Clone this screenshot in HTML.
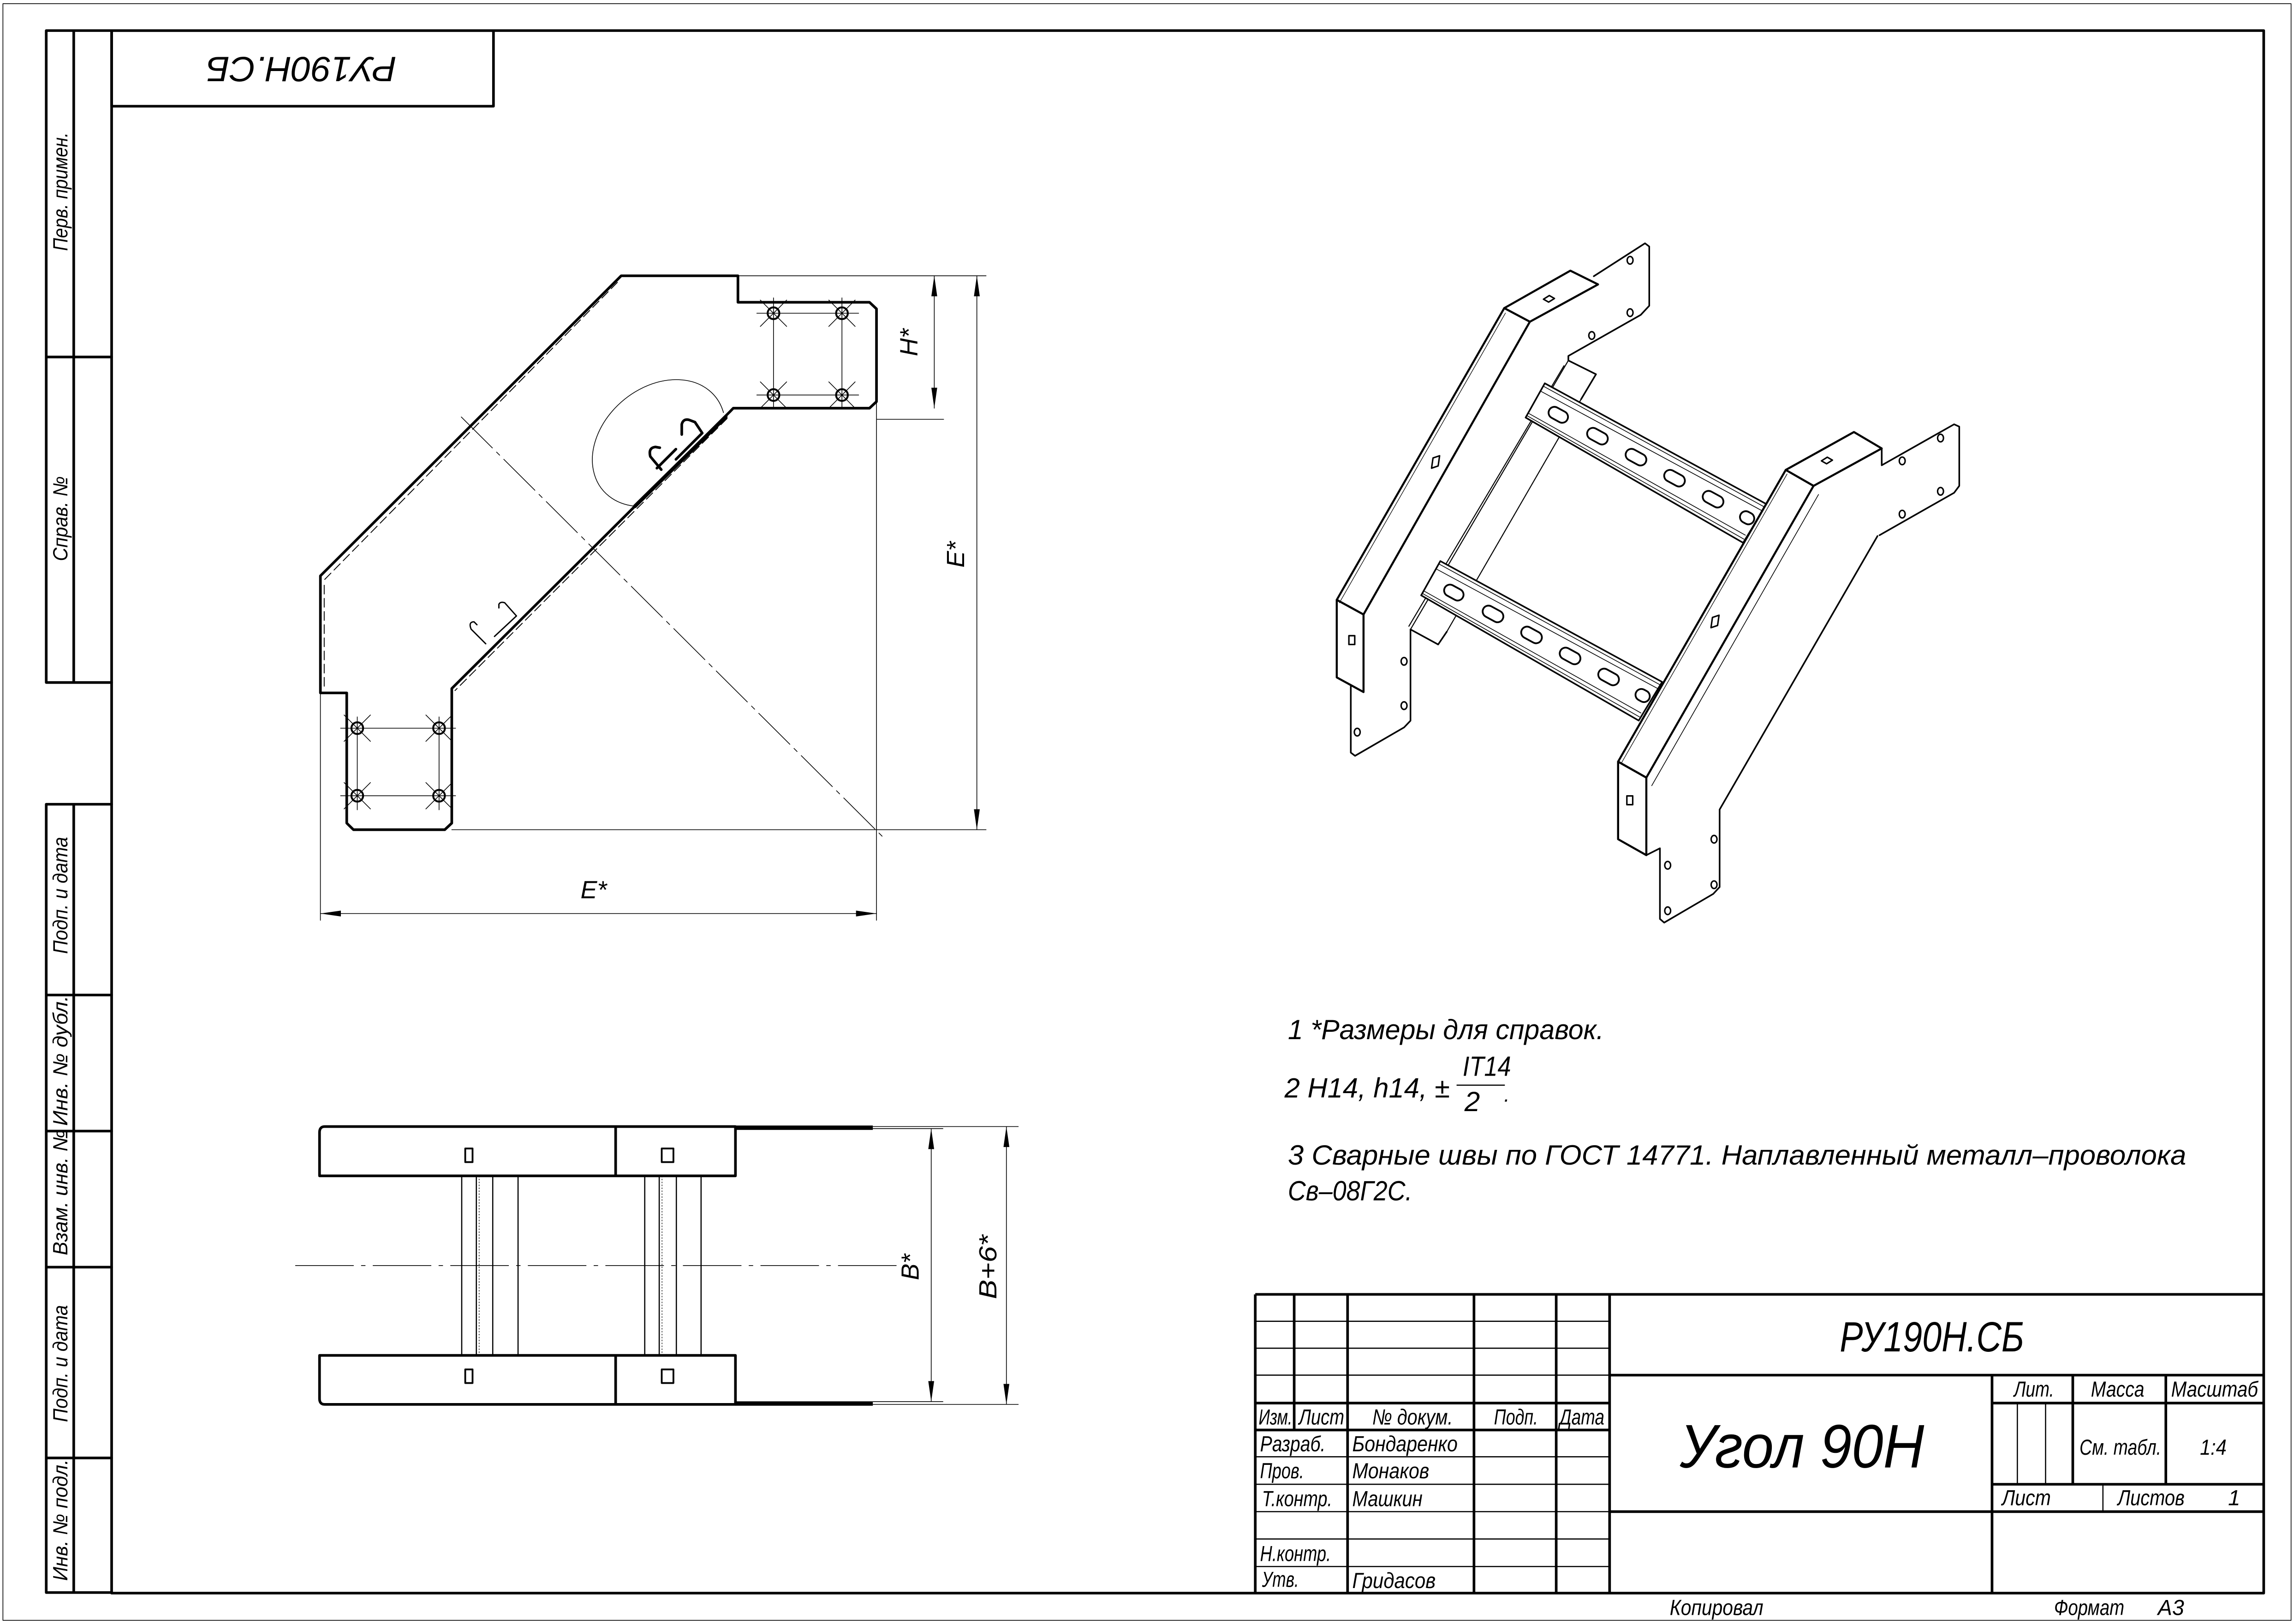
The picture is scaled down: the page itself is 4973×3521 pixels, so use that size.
<!DOCTYPE html>
<html><head><meta charset="utf-8"><style>
html,body{margin:0;padding:0;background:#fff;}
svg{display:block;}
text{font-family:"Liberation Sans Narrow","Liberation Sans","DejaVu Sans",sans-serif;font-style:italic;fill:#000;}
</style></head><body>
<svg width="4973" height="3521" viewBox="0 0 1568 1110" preserveAspectRatio="none" xmlns="http://www.w3.org/2000/svg">
<rect x="0" y="0" width="1568" height="1110" fill="#fff"/>
<g fill="none" stroke="#000" stroke-linecap="round" stroke-linejoin="round">
<rect x="2" y="2.5" width="1564" height="1105" stroke-width="0.5"/>
<rect x="76.3" y="20.9" width="1471" height="1068" stroke-width="1.8"/>
<rect x="76.3" y="20.9" width="261" height="51.7" stroke-width="1.8"/>
<path d="M76.3 20.9 H31.6 V466.5 H76.3 M50.4 20.9 V466.5 M31.6 244 H76.3" stroke-width="1.8"/>
<path d="M76.3 549.7 H31.6 V1088.5 H76.3 M50.4 549.7 V1088.5 M31.6 680.1 H76.3 M31.6 773.1 H76.3 M31.6 866.1 H76.3 M31.6 996.5 H76.3" stroke-width="1.8"/>

<path d="M424.6 188.5 H504.4 V206.6 H594.3 L599.1 211.1 V274.5 L594.3 279 H501.2 L498.9 281.4 L308.8 470.6 V562.6 L304 567.1 H241.6 L237 562.6 V473.6 H219 V393.6 Z" stroke-width="1.8"/>
<path d="M422 193 L221.5 396.5 M221.6 400 V470" stroke-width="0.6" stroke-dasharray="6 3"/>
<path d="M497 286 L311 472" stroke-width="0.6" stroke-dasharray="6 3"/>
<path d="M496 285 L434 346" stroke-width="2.6"/>
<path d="M434 346 A50 38 -40 1 1 494.5 282" stroke-width="0.5"/>
<path d="M452 321 L444.5 312 Q443 306 448 305.5 L451 306 M449 320 L462 307 M466 297 V290 Q467 286 471 287 L475 288.5 L480 296 L462 314" stroke-width="1.8"/>
<path d="M341 415.5 V413 Q342 411 345 412 L353 421 L338 435 M332 440 L322 430 Q320 425 324 425 L326 427" stroke-width="0.9"/>
<path d="M315.3 285 L603 571.6" stroke-width="0.5" stroke-dasharray="30 4 3 4"/>
<path d="M517.3 214.1 H586.9 M517.3 270 H586.9 M528.7 203.6 V279 M575.5 203.6 V279 M232.8 497.7 H311.4 M232.8 543.9 H311.4 M244.2 490 V553.5 M300.1 490 V553.5" stroke-width="0.5"/>
<g stroke-width="1.3">
<circle cx="528.7" cy="214.1" r="4"/><circle cx="575.5" cy="214.1" r="4"/><circle cx="528.7" cy="270" r="4"/><circle cx="575.5" cy="270" r="4"/>
<circle cx="244.2" cy="497.7" r="4"/><circle cx="300.1" cy="497.7" r="4"/><circle cx="244.2" cy="543.9" r="4"/><circle cx="300.1" cy="543.9" r="4"/>
</g>
<g stroke-width="0.5">
<path d="M519.7 205.1 l18 18 M537.7 205.1 l-18 18 M566.5 205.1 l18 18 M584.5 205.1 l-18 18 M519.7 261 l18 18 M537.7 261 l-18 18 M566.5 261 l18 18 M584.5 261 l-18 18"/>
<path d="M235.2 488.7 l18 18 M253.2 488.7 l-18 18 M291.1 488.7 l18 18 M309.1 488.7 l-18 18 M235.2 534.9 l18 18 M253.2 534.9 l-18 18 M291.1 534.9 l18 18 M309.1 534.9 l-18 18"/>
</g>
<path d="M504.4 188.5 H674 M599.1 286.6 H645 M308.8 567.1 H674 M599.1 274.5 V629 M219 473.6 V629" stroke-width="0.5"/>
<path d="M638.6 188.5 V279 M667.7 188.5 V567.1 M219 624.4 H599.1" stroke-width="0.5"/>
</g>
<g fill="#000">
<path d="M638.6 188.5 l-2 14 h4 Z M638.6 279 l-2 -14 h4 Z"/>
<path d="M667.7 188.5 l-2 14 h4 Z M667.7 567.1 l-2 -14 h4 Z"/>
<path d="M219 624.4 l14 -2 v4 Z M599.1 624.4 l-14 -2 v4 Z"/>
</g>
<text x="405.8" y="614" font-size="17" text-anchor="middle">E*</text>
<text transform="translate(627,234) rotate(-90)" font-size="17" text-anchor="middle">H*</text>
<text transform="translate(659,379) rotate(-90)" font-size="17" text-anchor="middle">E*</text>

<g fill="none" stroke="#000" stroke-linejoin="round">
<path d="M222 770 H502.7 V803.7 H218.4 V774 Q218.4 770 222 770 Z M420.8 770 V803.7" stroke-width="1.8"/>
<path d="M222 959.9 H502.7 V926.4 H218.4 V956 Q218.4 959.9 222 959.9 Z M420.8 926.4 V959.9" stroke-width="1.8"/>
<path d="M502.7 770.8 H596.6 M502.7 959.3 H596.6" stroke-width="3"/>
<path d="M315.6 803.7 V926.4 M325.6 803.7 V926.4 M336.8 803.7 V926.4 M354.1 803.7 V926.4 M440.7 803.7 V926.4 M450.6 803.7 V926.4 M462.3 803.7 V926.4 M479.2 803.7 V926.4" stroke-width="0.8"/>
<path d="M327.5 803.7 V926.4 M452.5 803.7 V926.4" stroke-width="0.4" stroke-dasharray="1 1"/>
<rect x="318" y="785" width="5" height="9.3" stroke-width="1.2"/>
<rect x="452.3" y="785" width="8" height="9.3" stroke-width="1.2"/>
<rect x="318" y="936" width="5" height="9.3" stroke-width="1.2"/>
<rect x="452.3" y="936" width="8" height="9.3" stroke-width="1.2"/>
<path d="M201.8 865 H613" stroke-width="0.5" stroke-dasharray="40 5 3 5"/>
<path d="M596.6 771.4 H644.7 M596.6 958 H644.7 M596.6 770 H696.2 M596.6 959.9 H696.2 M636.5 771.4 V958 M687.9 770 V959.9" stroke-width="0.5"/>
</g>
<g fill="#000">
<path d="M636.5 771.4 l-2 14 h4 Z M636.5 958 l-2 -14 h4 Z M687.9 770 l-2 14 h4 Z M687.9 959.9 l-2 -14 h4 Z"/>
</g>
<text transform="translate(628,866) rotate(-90)" font-size="17" text-anchor="middle">B*</text>
<text transform="translate(681,866) rotate(-90)" font-size="17" text-anchor="middle" textLength="44" lengthAdjust="spacingAndGlyphs">B+6*</text>

<g fill="#fff" stroke="#000" stroke-linejoin="round" stroke-linecap="round">
<path d="M1089.4 188.8 L1124.4 166.3 L1127.3 168.5 V209 L1121.5 215.2 L1072 243.3 L1072 246.4 L1090.9 255.8 L1080.7 272.9" stroke-width="1.1" fill="none"/>
<path d="M923.3 469.2 V514.4 L926.2 516.6 L959.7 497.2 L964.1 492.6 V430.2 L983 440.5 L988.9 431.8" stroke-width="1.1" fill="none"/>
<path d="M1072 246.4 L964.1 430.2 M1080.7 272.9 L988.9 431.8 M1069 250 L963 428" stroke-width="0.7" fill="none"/>
<path d="M1125.3 584.5 L1134.6 579.8 V628.1 L1137.5 630.6 L1171 611 L1175.4 606.3 V553.3 L1283.3 366.4" stroke-width="1.1" fill="none"/>
<path d="M1286.2 306.5 V318 L1335.7 290 L1339.2 291.6 V332.1 L1335.7 336.8 L1284.7 365.8" stroke-width="1.1" fill="none"/>

<g id="rung" stroke-width="1.1">
<path d="M1055.9 262 L1207.5 344.6 L1191.5 371 L1042.8 285.4 Z"/>
<path d="M1053 267.3 L1204.6 349.2 M1044.3 282.2 L1193 365.8 M1055 264 L1206 346.5 M1043.5 284 L1192 368.5" stroke-width="0.5" fill="none"/>
<g transform="rotate(28.6 1066 284)">
<rect x="1058" y="280" width="14" height="8" rx="4" stroke-width="1.2"/>
<rect x="1088" y="280" width="15" height="8" rx="4" stroke-width="1.2"/>
<rect x="1118" y="280" width="15" height="8" rx="4" stroke-width="1.2"/>
<rect x="1148" y="280" width="15" height="8" rx="4" stroke-width="1.2"/>
<rect x="1178" y="280" width="15" height="8" rx="4" stroke-width="1.2"/>
<rect x="1207" y="280" width="10" height="8" rx="4" stroke-width="1.2"/>
</g>
</g>
<use href="#rung" transform="translate(-71.4,121.5)"/>

<path d="M1028.2 210.6 L1073.4 185 L1092.3 194.4 L1045.7 219.9 Z" stroke-width="1.4"/>
<path d="M1028.2 210.6 L1045.7 219.9 L932 420 L913.7 410 Z" stroke-width="1.4"/>
<path d="M913.7 410 L932 420 V473 L913.7 463 Z" stroke-width="1.4"/>
<path d="M1029 214 L915.5 412" stroke-width="0.4" fill="none"/>
<path d="M1220.6 321.2 L1267.2 295.3 L1286.2 306.5 L1239.6 332.1 Z" stroke-width="1.4"/>
<path d="M1220.6 321.2 L1239.6 332.1 L1125.3 531.5 L1106 520.6 Z" stroke-width="1.4"/>
<path d="M1106 520.6 L1125.3 531.5 V584.5 L1106 573.6 Z" stroke-width="1.4"/>
<path d="M1239.6 332.1 L1286.2 306.5 M1243 338 L1129 537" stroke-width="0.5" fill="none"/>
<path d="M1221.5 324 L1108 522" stroke-width="0.4" fill="none"/>

<g stroke-width="1" fill="none">
<path d="M979.5 313 l4.5 -1.5 l-1 7 l-4.5 1.5 Z"/>
<path d="M1055 204.5 l4 -2.5 l3.5 2 l-4 2.5 Z"/>
<path d="M1170.5 422 l4.5 -1.5 l-1 7 l-4.5 1.5 Z"/>
<path d="M1245 315 l4 -2.5 l3.5 2 l-4 2.5 Z"/>
<path d="M922 434.5 h4 v6 h-4 Z"/>
<path d="M1112 544 h4 v6 h-4 Z"/>
</g>
<g stroke-width="1" fill="none">
<ellipse cx="1114.2" cy="177.9" rx="2" ry="2.6"/>
<ellipse cx="1114.2" cy="213.7" rx="2" ry="2.6"/>
<ellipse cx="1088" cy="229.3" rx="2" ry="2.6"/>
<ellipse cx="959.7" cy="452" rx="2" ry="2.6"/>
<ellipse cx="959.7" cy="482.3" rx="2" ry="2.6"/>
<ellipse cx="927.7" cy="500.4" rx="2" ry="2.6"/>
<ellipse cx="1326.4" cy="299.4" rx="2" ry="2.6"/>
<ellipse cx="1326.4" cy="335.8" rx="2" ry="2.6"/>
<ellipse cx="1300.2" cy="315" rx="2" ry="2.6"/>
<ellipse cx="1300.2" cy="351.4" rx="2" ry="2.6"/>
<ellipse cx="1171.6" cy="573.6" rx="2" ry="2.6"/>
<ellipse cx="1171.6" cy="604.7" rx="2" ry="2.6"/>
<ellipse cx="1139.9" cy="591.4" rx="2" ry="2.6"/>
<ellipse cx="1139.9" cy="622.5" rx="2" ry="2.6"/>
</g>
</g>

<text x="880.3" y="710.2" font-size="19" textLength="216" lengthAdjust="spacingAndGlyphs">1  *Размеры для справок.</text>
<text x="878" y="750.2" font-size="19" textLength="113" lengthAdjust="spacingAndGlyphs">2  H14, h14, ±</text>
<text x="999.8" y="735.3" font-size="19" textLength="33" lengthAdjust="spacingAndGlyphs">IT14</text>
<line x1="995.6" y1="741.7" x2="1028.6" y2="741.7" stroke="#000" stroke-width="0.8"/>
<text x="1001" y="759.4" font-size="19">2</text>
<text x="1028" y="753" font-size="14">.</text>
<text x="880.3" y="796" font-size="19" textLength="614" lengthAdjust="spacingAndGlyphs">3  Сварные  швы  по  ГОСТ  14771.  Наплавленный  металл–проволока</text>
<text x="880.3" y="820.5" font-size="19" textLength="85" lengthAdjust="spacingAndGlyphs">Св–08Г2С.</text>

<text transform="translate(206,39) rotate(180)" font-size="24" text-anchor="middle" textLength="130" lengthAdjust="spacingAndGlyphs">РУ190Н.СБ</text>

<g font-size="14" text-anchor="middle">
<text transform="translate(46,131) rotate(-90)" textLength="81" lengthAdjust="spacingAndGlyphs">Перв. примен.</text>
<text transform="translate(46,354.5) rotate(-90)" textLength="58" lengthAdjust="spacingAndGlyphs">Справ. №</text>
<text transform="translate(46,612) rotate(-90)" textLength="80" lengthAdjust="spacingAndGlyphs">Подп. и дата</text>
<text transform="translate(46,725) rotate(-90)" textLength="89" lengthAdjust="spacingAndGlyphs">Инв. № дубл.</text>
<text transform="translate(46,815) rotate(-90)" textLength="86" lengthAdjust="spacingAndGlyphs">Взам. инв. №</text>
<text transform="translate(46,932) rotate(-90)" textLength="80" lengthAdjust="spacingAndGlyphs">Подп. и дата</text>
<text transform="translate(46,1039) rotate(-90)" textLength="83" lengthAdjust="spacingAndGlyphs">Инв. № подл.</text>
</g>

<g fill="none" stroke="#000">
<path d="M858 884.7 H1547 M858 884.7 V1089 M1100.2 884.7 V1089 M858 959 H1100.2 M858 977.4 H1100.2 M1100.2 939.9 H1547 M1100.2 1033.2 H1547 M1361.6 959 H1547 M1361.6 1014.5 H1547 M1361.6 939.9 V1089 M884.6 884.7 V977.4 M921.1 884.7 V1089 M1007.5 884.7 V1089 M1063.7 884.7 V1089 M1416.8 939.9 V1014.5 M1480.4 939.9 V1014.5" stroke-width="1.8"/>
<path d="M858 903.1 H1100.2 M858 921.5 H1100.2 M858 939.9 H1100.2 M858 995.7 H1100.2 M858 1014.5 H1100.2 M858 1033.2 H1100.2 M858 1051.9 H1100.2 M858 1070.7 H1100.2 M1378.9 959 V1014.5 M1398.2 959 V1014.5 M1437.4 1014.5 V1033.2" stroke-width="0.8"/>
</g>
<text x="1320.5" y="923.7" font-size="29" text-anchor="middle" textLength="126" lengthAdjust="spacingAndGlyphs">РУ190Н.СБ</text>
<text x="1148.2" y="1003" font-size="42" textLength="167" lengthAdjust="spacingAndGlyphs">Угол 90Н</text>
<g font-size="15">
<text x="860.3" y="973.7" textLength="23" lengthAdjust="spacingAndGlyphs">Изм.</text>
<text x="887.8" y="973.7" textLength="31" lengthAdjust="spacingAndGlyphs">Лист</text>
<text x="938" y="973.7" textLength="55" lengthAdjust="spacingAndGlyphs">№ докум.</text>
<text x="1021.2" y="973.7" textLength="30" lengthAdjust="spacingAndGlyphs">Подп.</text>
<text x="1066" y="973.7" textLength="30.6" lengthAdjust="spacingAndGlyphs">Дата</text>
<text x="861.3" y="992" textLength="44.7" lengthAdjust="spacingAndGlyphs">Разраб.</text>
<text x="924.3" y="992" textLength="72" lengthAdjust="spacingAndGlyphs">Бондаренко</text>
<text x="861.3" y="1010.4" textLength="30" lengthAdjust="spacingAndGlyphs">Пров.</text>
<text x="924.3" y="1010.4" textLength="52.6" lengthAdjust="spacingAndGlyphs">Монаков</text>
<text x="862.6" y="1029.5" textLength="48" lengthAdjust="spacingAndGlyphs">Т.контр.</text>
<text x="924.3" y="1029.5" textLength="48" lengthAdjust="spacingAndGlyphs">Машкин</text>
<text x="861.3" y="1067" textLength="48.4" lengthAdjust="spacingAndGlyphs">Н.контр.</text>
<text x="862.6" y="1084.7" textLength="25.2" lengthAdjust="spacingAndGlyphs">Утв.</text>
<text x="924.3" y="1085.4" textLength="57" lengthAdjust="spacingAndGlyphs">Гридасов</text>
<text x="1376.6" y="954.6" textLength="27.4" lengthAdjust="spacingAndGlyphs">Лит.</text>
<text x="1429.2" y="954.6" textLength="36.5" lengthAdjust="spacingAndGlyphs">Масса</text>
<text x="1484" y="954.6" textLength="59.4" lengthAdjust="spacingAndGlyphs">Масштаб</text>
<text x="1421.4" y="994.3" textLength="55.8" lengthAdjust="spacingAndGlyphs">См. табл.</text>
<text x="1503.7" y="994.3" textLength="18.2" lengthAdjust="spacingAndGlyphs">1:4</text>
<text x="1368.4" y="1028.8" textLength="33.4" lengthAdjust="spacingAndGlyphs">Лист</text>
<text x="1447.5" y="1028.8" textLength="45.7" lengthAdjust="spacingAndGlyphs">Листов</text>
<text x="1522.9" y="1028.8">1</text>
<text x="1141.3" y="1103.8" textLength="64" lengthAdjust="spacingAndGlyphs">Копировал</text>
<text x="1404" y="1103.8" textLength="48" lengthAdjust="spacingAndGlyphs">Формат</text>
<text x="1474.9" y="1103.8" textLength="18" lengthAdjust="spacingAndGlyphs">А3</text>
</g>
</svg>
</body></html>
